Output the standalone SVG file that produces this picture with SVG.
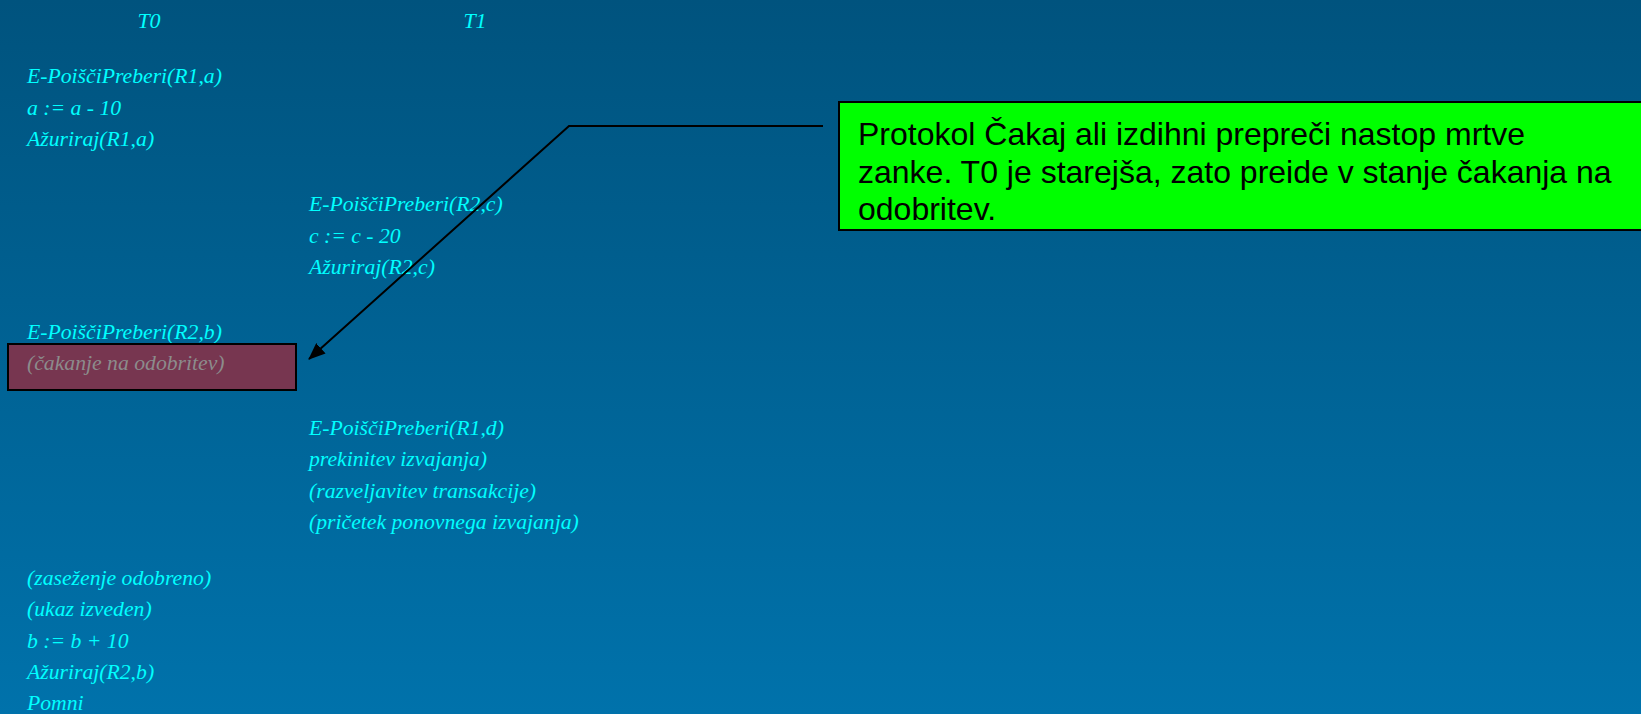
<svg xmlns="http://www.w3.org/2000/svg" width="1641" height="714" viewBox="0 0 1641 714">
  <style>
    .op { font-family: "Liberation Serif", "DejaVu Serif", serif; font-style: italic; font-size: 21.7px; fill: #00ffff; }
    .hd { font-family: "Liberation Serif", "DejaVu Serif", serif; font-style: italic; font-size: 22px; fill: #00ffff; }
    .wait { fill: #8c8c8c; }
    .note { font-family: "Liberation Sans", Arial, sans-serif; font-size: 32px; fill: #000000; }
    .conn { fill: none; stroke: #000000; stroke-width: 2; }
  </style>
  <defs>
    <linearGradient id="bg" x1="0" y1="0" x2="0" y2="1">
      <stop offset="0" stop-color="#00537e"/>
      <stop offset="1" stop-color="#0072ab"/>
    </linearGradient>
    <marker id="arrow" markerWidth="17" markerHeight="14" refX="16" refY="7" orient="auto" markerUnits="userSpaceOnUse" viewBox="0 0 17 14">
      <path d="M0,0 L17,7 L0,14 Z" fill="#000000"/>
    </marker>
  </defs>

  <rect x="0" y="0" width="1641" height="714" fill="url(#bg)"/>

  <!-- column headings -->
  <g id="head-t0"><text class="hd" x="149" y="28" text-anchor="middle">T0</text></g>
  <g id="head-t1"><text class="hd" x="475" y="28" text-anchor="middle">T1</text></g>

  <!-- T0: first steps -->
  <g id="t0-step1">
    <text class="op" x="27" y="83">E-PoiščiPreberi(R1,a)</text>
    <text class="op" x="27" y="115">a := a - 10</text>
    <text class="op" x="27" y="146">Ažuriraj(R1,a)</text>
  </g>

  <!-- T1: first steps -->
  <g id="t1-step1">
    <text class="op" x="309" y="211">E-PoiščiPreberi(R2,c)</text>
    <text class="op" x="309" y="243">c := c - 20</text>
    <text class="op" x="309" y="274">Ažuriraj(R2,c)</text>
  </g>

  <!-- T0: lock request and wait -->
  <g id="t0-wait">
    <text class="op" x="27" y="339">E-PoiščiPreberi(R2,b)</text>
    <rect x="8" y="344" width="288" height="46" fill="#773650" stroke="#000000" stroke-width="2"/>
    <text class="op wait" x="27" y="370">(čakanje na odobritev)</text>
  </g>

  <!-- T1: second steps -->
  <g id="t1-step2">
    <text class="op" x="309" y="435">E-PoiščiPreberi(R1,d)</text>
    <text class="op" x="309" y="466">prekinitev izvajanja)</text>
    <text class="op" x="309" y="498">(razveljavitev transakcije)</text>
    <text class="op" x="309" y="529">(pričetek ponovnega izvajanja)</text>
  </g>

  <!-- T0: continuation -->
  <g id="t0-step2">
    <text class="op" x="27" y="585">(zaseženje odobreno)</text>
    <text class="op" x="27" y="616">(ukaz izveden)</text>
    <text class="op" x="27" y="648">b := b + 10</text>
    <text class="op" x="27" y="679">Ažuriraj(R2,b)</text>
    <text class="op" x="27" y="710">Pomni</text>
  </g>

  <!-- callout note -->
  <g id="note">
    <rect x="839" y="102" width="805" height="128" fill="#00ff00" stroke="#000000" stroke-width="2"/>
    <text class="note" x="858" y="145">Protokol Čakaj ali izdihni prepreči nastop mrtve</text>
    <text class="note" x="858" y="183">zanke. T0 je starejša, zato preide v stanje čakanja na</text>
    <text class="note" x="858" y="220">odobritev.</text>
  </g>

  <!-- connectors -->
  <g id="connectors">
    <polyline class="conn" points="823,126 569,126 309,359" marker-end="url(#arrow)"/>
  </g>
</svg>
